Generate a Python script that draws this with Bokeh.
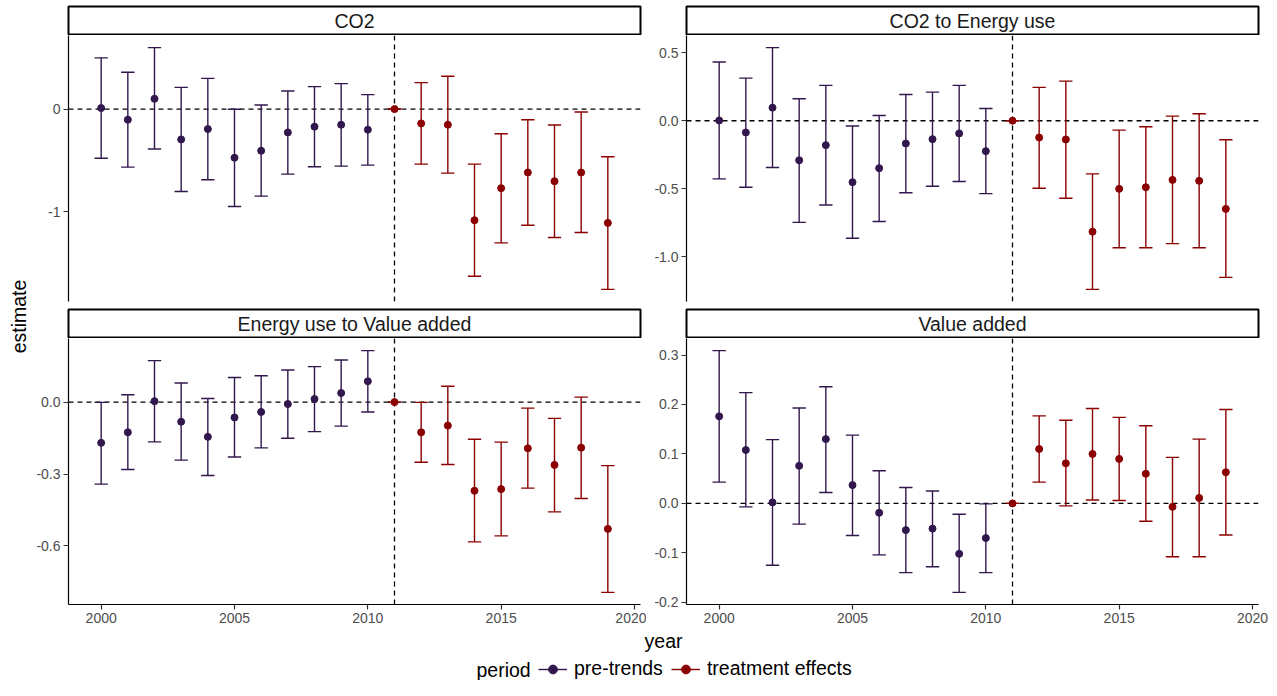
import math
from bokeh.plotting import figure
from bokeh.models import Range1d, Span, FixedTicker, ColumnDataSource, Legend, LegendItem
from bokeh.layouts import row, column
from bokeh.embed import file_html
from bokeh.resources import INLINE
from bokeh.core.properties import value
from bokeh.transform import factor_cmap

FONT = "Liberation Sans"
PRE_COL = "#32174D"
TRT_COL = "#8B0000"

# ---------------- data ----------------
years = list(range(2000, 2020))
periods = ["pre-trends"] * 11 + ["treatment effects"] * 9
period_levels = ["pre-trends", "treatment effects"]

co2_est = [0.010, -0.104, 0.100, -0.296, -0.195, -0.475, -0.407, -0.228, -0.172, -0.153, -0.201,
           0.0, -0.140, -0.153, -1.085, -0.772, -0.619, -0.704, -0.619, -1.111]
co2_lo = [-0.480, -0.567, -0.390, -0.804, -0.690, -0.951, -0.850, -0.635, -0.563, -0.557, -0.547,
          0.0, -0.537, -0.625, -1.632, -1.306, -1.134, -1.254, -1.205, -1.760]
co2_hi = [0.500, 0.360, 0.600, 0.212, 0.300, -0.002, 0.040, 0.176, 0.219, 0.248, 0.141,
          0.0, 0.258, 0.320, -0.537, -0.241, -0.104, -0.156, -0.029, -0.465]

ce_est = [0.002, -0.086, 0.096, -0.290, -0.179, -0.451, -0.348, -0.167, -0.135, -0.093, -0.223,
          0.0, -0.123, -0.137, -0.814, -0.500, -0.488, -0.434, -0.441, -0.647]
ce_lo = [-0.427, -0.488, -0.343, -0.746, -0.618, -0.863, -0.740, -0.529, -0.481, -0.446, -0.535,
         0.0, -0.495, -0.569, -1.238, -0.932, -0.932, -0.902, -0.932, -1.150]
ce_hi = [0.431, 0.313, 0.537, 0.162, 0.260, -0.039, 0.039, 0.193, 0.210, 0.260, 0.090,
         0.0, 0.245, 0.291, -0.390, -0.069, -0.044, 0.034, 0.051, -0.140]

ev_est = [-0.170, -0.126, 0.004, -0.082, -0.145, -0.064, -0.041, -0.008, 0.013, 0.038, 0.087,
          0.0, -0.126, -0.098, -0.370, -0.363, -0.193, -0.262, -0.190, -0.529]
ev_lo = [-0.342, -0.281, -0.166, -0.242, -0.306, -0.229, -0.191, -0.151, -0.123, -0.100, -0.041,
         0.0, -0.251, -0.260, -0.583, -0.558, -0.359, -0.458, -0.402, -0.794]
ev_hi = [-0.001, 0.031, 0.173, 0.080, 0.015, 0.103, 0.110, 0.134, 0.148, 0.176, 0.215,
         0.0, -0.001, 0.066, -0.155, -0.167, -0.025, -0.068, 0.021, -0.265]

va_est = [0.176, 0.108, 0.002, 0.076, 0.130, 0.037, -0.019, -0.054, -0.051, -0.102, -0.070,
          0.0, 0.110, 0.081, 0.100, 0.090, 0.060, -0.007, 0.011, 0.063]
va_lo = [0.043, -0.007, -0.125, -0.042, 0.022, -0.065, -0.104, -0.140, -0.128, -0.180, -0.140,
         0.0, 0.043, -0.005, 0.007, 0.006, -0.036, -0.108, -0.108, -0.064]
va_hi = [0.309, 0.224, 0.129, 0.193, 0.236, 0.138, 0.066, 0.032, 0.025, -0.022, -0.001,
         0.0, 0.177, 0.168, 0.192, 0.174, 0.157, 0.093, 0.130, 0.190]

co2_ticks = [-1, 0]
co2_labels = ["-1", "0"]
ce_ticks = [-1.0, -0.5, 0.0, 0.5]
ce_labels = ["-1.0", "-0.5", "0.0", "0.5"]
ev_ticks = [-0.6, -0.3, 0.0]
ev_labels = ["-0.6", "-0.3", "0.0"]
va_ticks = [-0.2, -0.1, 0.0, 0.1, 0.2, 0.3]
va_labels = ["-0.2", "-0.1", "0.0", "0.1", "0.2", "0.3"]
year_ticks = [2000, 2005, 2010, 2015, 2020]

panel_titles = ["CO2", "CO2 to Energy use", "Energy use to Value added", "Value added"]

# ---------------- helpers ----------------
ERR_W = 0.5  # errorbar cap width (years)


def expand(lo, hi, mult=0.05):
    d = (hi - lo) * mult
    return lo - d, hi + d


XLO, XHI = expand(min(years) - ERR_W / 2, max(years) + ERR_W / 2)
TREAT_START = years[periods.index("treatment effects")]

FRAME_W = 572
FRAME_H = 266
COL_BORDERS = [(38, 6), (40, 11)]
YLAB_W = 30


def style_axes(p):
    for ax in p.axis:
        ax.axis_line_color = "black"
        ax.axis_line_width = 1.2
        ax.major_tick_line_color = "#333333"
        ax.major_tick_line_width = 1.2
        ax.major_tick_out = 5
        ax.major_tick_in = 0
        ax.minor_tick_line_color = None
        ax.major_label_text_font = FONT
        ax.major_label_text_font_size = "14px"
        ax.major_label_text_color = "#4D4D4D"
        ax.major_label_standoff = 3


def make_panel(est, lo, hi, ticks, labels, col, bottom_row):
    left, right = COL_BORDERS[col]
    bb = 24 if bottom_row else 7
    ylo, yhi = expand(min(lo), max(hi))
    p = figure(width=left + FRAME_W + right, height=FRAME_H + bb,
               x_range=Range1d(XLO, XHI), y_range=Range1d(ylo, yhi),
               output_backend="svg", toolbar_location=None, title=None,
               x_axis_location="below" if bottom_row else None, y_axis_location="left",
               min_border_left=left, min_border_right=right, min_border_top=0,
               min_border_bottom=bb)
    p.outline_line_color = None
    p.grid.visible = False
    p.background_fill_color = "white"
    p.border_fill_color = "white"

    src = ColumnDataSource(dict(
        year=years, est=est, lo=lo, hi=hi, period=periods,
        xl=[y - ERR_W / 2 for y in years], xr=[y + ERR_W / 2 for y in years],
    ))
    cmap = factor_cmap("period", palette=[PRE_COL, TRT_COL], factors=period_levels)

    p.add_layout(Span(location=0, dimension="width", line_color="black",
                      line_width=1.3, line_dash="5 4", level="underlay"))
    p.add_layout(Span(location=TREAT_START, dimension="height", line_color="black",
                      line_width=1.3, line_dash="5 4", level="underlay"))

    p.segment(x0="year", y0="lo", x1="year", y1="hi", source=src, line_color=cmap, line_width=1.4)
    p.segment(x0="xl", y0="hi", x1="xr", y1="hi", source=src, line_color=cmap, line_width=1.4)
    p.segment(x0="xl", y0="lo", x1="xr", y1="lo", source=src, line_color=cmap, line_width=1.4)
    p.scatter(x="year", y="est", source=src, size=7, fill_color=cmap, line_color=cmap)

    p.yaxis.ticker = FixedTicker(ticks=ticks)
    p.yaxis.major_label_overrides = {t: l for t, l in zip(ticks, labels)}
    if bottom_row:
        p.xaxis.ticker = FixedTicker(ticks=year_ticks)
    style_axes(p)
    return p


def make_strip(text, col, h, top, bottom):
    left, right = COL_BORDERS[col]
    s = figure(width=left + FRAME_W + right, height=h,
               x_range=Range1d(0, 1), y_range=Range1d(0, 1),
               x_axis_location=None, y_axis_location=None, toolbar_location=None,
               output_backend="svg", title=None,
               min_border_left=left, min_border_right=right,
               min_border_top=top, min_border_bottom=bottom)
    s.grid.visible = False
    s.outline_line_color = "black"
    s.outline_line_width = 2
    s.background_fill_color = "white"
    s.border_fill_color = "white"
    s.text(x=[0.5], y=[0.5], text=[text], text_align="center", text_baseline="middle",
           text_font=value(FONT), text_font_size="19.5px", text_color="#1A1A1A")
    return s


specs = [
    (co2_est, co2_lo, co2_hi, co2_ticks, co2_labels),
    (ce_est, ce_lo, ce_hi, ce_ticks, ce_labels),
    (ev_est, ev_lo, ev_hi, ev_ticks, ev_labels),
    (va_est, va_lo, va_hi, va_ticks, va_labels),
]

p1 = make_panel(*specs[0], col=0, bottom_row=False)
p2 = make_panel(*specs[1], col=1, bottom_row=False)
p3 = make_panel(*specs[2], col=0, bottom_row=True)
p4 = make_panel(*specs[3], col=1, bottom_row=True)

S1_H, S2_H = 35, 30
s1 = make_strip(panel_titles[0], 0, S1_H, 6, 1)
s2 = make_strip(panel_titles[1], 1, S1_H, 6, 1)
s3 = make_strip(panel_titles[2], 0, S2_H, 1, 1)
s4 = make_strip(panel_titles[3], 1, S2_H, 1, 1)

grid = column(row(s1, s2), row(p1, p2), row(s3, s4), row(p3, p4))
GRID_H = S1_H + (FRAME_H + 7) + S2_H + (FRAME_H + 24)
TOTAL_W = YLAB_W + (38 + FRAME_W + 6) + (40 + FRAME_W + 11)

# y-axis title column
ylab = figure(width=YLAB_W, height=GRID_H, x_range=Range1d(0, YLAB_W), y_range=Range1d(GRID_H, 0),
              x_axis_location=None, y_axis_location=None, toolbar_location=None,
              output_backend="svg", title=None,
              min_border_left=0, min_border_right=0, min_border_top=0, min_border_bottom=0)
ylab.grid.visible = False
ylab.outline_line_color = None
ylab.text(x=[18], y=[316], text=["estimate"], angle=math.pi / 2, text_align="center",
          text_baseline="middle", text_font=value(FONT), text_font_size="19.5px", text_color="black")

# bottom: x title + legend
BOT_H = 680 - GRID_H
bot = figure(width=TOTAL_W, height=BOT_H, x_range=Range1d(0, TOTAL_W),
             y_range=Range1d(GRID_H + BOT_H, GRID_H),
             x_axis_location=None, y_axis_location=None, toolbar_location=None,
             output_backend="svg", title=None,
             min_border_left=0, min_border_right=0, min_border_top=0, min_border_bottom=0)
bot.grid.visible = False
bot.outline_line_color = None
bot.text(x=[663], y=[640], text=["year"], text_align="center", text_baseline="middle",
         text_font=value(FONT), text_font_size="19.5px", text_color="black")
bot.text(x=[476], y=[669], text=["period"], text_align="left", text_baseline="middle",
         text_font=value(FONT), text_font_size="19.5px", text_color="black")

nan = float("nan")
items = []
for lvl, colr in zip(period_levels, [PRE_COL, TRT_COL]):
    lr = bot.line(x=[nan, nan], y=[nan, nan], line_color=colr, line_width=1.4)
    sr = bot.scatter(x=[nan], y=[nan], size=7, fill_color=colr, line_color=colr)
    items.append(LegendItem(label=lvl, renderers=[lr, sr]))

legend = Legend(items=items, orientation="horizontal", location=(538, 0),
                glyph_width=29, glyph_height=22, label_standoff=7, spacing=8,
                margin=0, padding=0, border_line_color=None, background_fill_alpha=0,
                label_text_font=FONT, label_text_font_size="19.5px", label_text_color="black",
                label_height=22)
bot.add_layout(legend, "center")

layout = column(row(ylab, grid), bot)

open("out.html", "w").write(file_html(layout, INLINE))
